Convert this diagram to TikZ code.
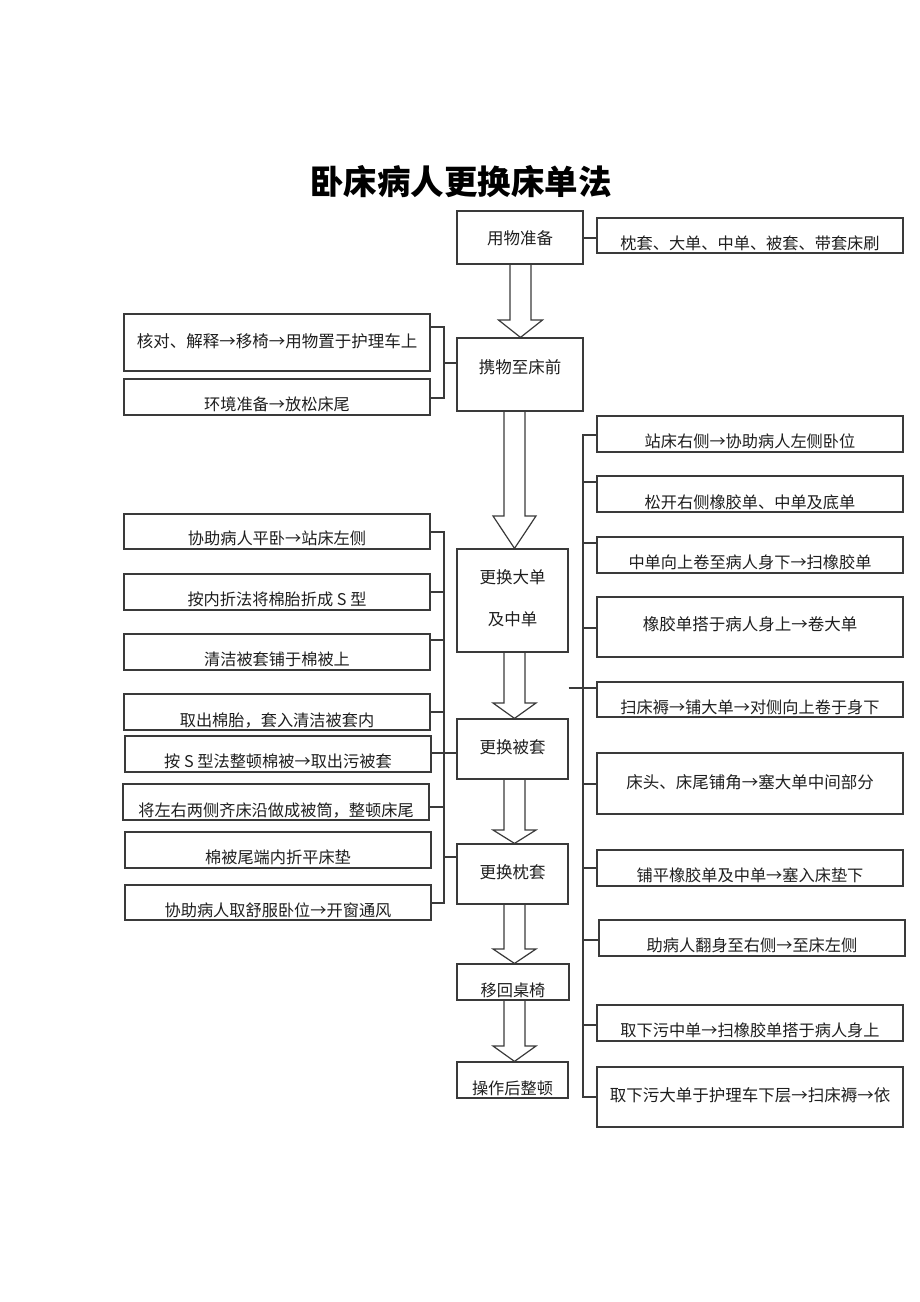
\documentclass[tikz,border=0pt]{standalone}
\usepackage{fontspec}
\setmainfont{Noto Sans CJK SC}
\usetikzlibrary{fit,calc}
\definecolor{lc}{HTML}{3A3A3A}
\definecolor{tc}{HTML}{1E1E1E}
\newcommand\bx[8]{\node[box,fit={(#2,#3) (#4,#5)}] (#1) {};\node[#6] (#1t) at ({(#2+#4)/2},#7) {#8};}
\newcommand\barrow[6]{\draw[arr] ({#3-#4},0 |- #1.south) -- ({#3-#4},#6) -- ({#3-#5},#6) -- (#3,0 |- #2.north) -- ({#3+#5},#6) -- ({#3+#4},#6) -- ({#3+#4},0 |- #1.south);}
\begin{document}
\begin{tikzpicture}[x=1pt,y=-1pt,
  box/.style={draw=lc,line width=1.2pt,inner sep=0pt},
  sm/.style={font=\fontsize{16.2}{16.2}\selectfont,text=tc,inner sep=0pt,text height=0.88em,text depth=0.12em,yshift=-3pt},
  bg/.style={font=\fontsize{16.5}{16.5}\selectfont,text=tc,inner sep=0pt,text height=0.88em,text depth=0.12em,yshift=-3pt},
  ttl/.style={font=\fontsize{33.5}{33.5}\selectfont\bfseries,text=black,inner sep=0pt},
  ln/.style={draw=lc,line width=1.2pt},
  arr/.style={draw=lc,line width=1.2pt,line join=miter}]
\useasboundingbox (0,0) rectangle (920,1302);
\node[ttl] (title) at (461,182) {卧床病人更换床单法};
% central column
\bx{c1}{457}{211}{583}{264}{bg}{238}{用物准备}
\bx{c2}{457}{338}{583}{411}{bg}{367}{携物至床前}
\node[box,fit={(457,549) (568,652)}] (c3) {};
\node[bg] (c3a) at (512.5,577) {更换大单};
\node[bg] (c3b) at (512.5,619) {及中单};
\bx{c4}{457}{719}{568}{779}{bg}{747}{更换被套}
\bx{c5}{457}{844}{568}{904}{bg}{872}{更换枕套}
\bx{c6}{457}{964}{569}{1000}{sm}{990}{移回桌椅}
\bx{c7}{457}{1062}{568}{1098}{sm}{1088}{操作后整顿}
% block arrows
\barrow{c1}{c2}{520.5}{10.5}{22}{320}
\barrow{c2}{c3}{514.5}{10.5}{21.5}{516}
\barrow{c3}{c4}{514.5}{10.5}{21.5}{703}
\barrow{c4}{c5}{514.5}{10.5}{21.5}{830}
\barrow{c5}{c6}{514.5}{10.5}{21.5}{949}
\barrow{c6}{c7}{514.5}{10.5}{21.5}{1046}
% top right
\bx{r0}{597}{218}{903}{253}{sm}{243}{枕套、大单、中单、被套、带套床刷}
\draw[ln] (c1.east |- 0,238) -- (r0.west |- 0,238);
% top left
\bx{l1}{124}{314}{430}{371}{bg}{341}{核对、解释→移椅→用物置于护理车上}
\bx{l2}{124}{379}{430}{415}{sm}{404}{环境准备→放松床尾}
\coordinate (bt) at (444,327);
\coordinate (bb) at (444,398);
\draw[ln] (l1.east |- bt) -- (bt) -- (bb) -- (l2.east |- bb);
\draw[ln] (bt |- 0,363) -- (c2.west |- 0,363);
% right group
\bx{r1}{597}{416}{903}{452}{sm}{441}{站床右侧→协助病人左侧卧位}
\bx{r2}{597}{476}{903}{512}{sm}{502}{松开右侧橡胶单、中单及底单}
\bx{r3}{597}{537}{903}{573}{sm}{562}{中单向上卷至病人身下→扫橡胶单}
\bx{r4}{597}{597}{903}{657}{bg}{624}{橡胶单搭于病人身上→卷大单}
\bx{r5}{597}{682}{903}{717}{sm}{707}{扫床褥→铺大单→对侧向上卷于身下}
\bx{r6}{597}{753}{903}{814}{bg}{782}{床头、床尾铺角→塞大单中间部分}
\bx{r7}{597}{850}{903}{886}{sm}{875}{铺平橡胶单及中单→塞入床垫下}
\bx{r8}{599}{920}{905}{956}{sm}{945}{助病人翻身至右侧→至床左侧}
\bx{r9}{597}{1005}{903}{1041}{sm}{1030}{取下污中单→扫橡胶单搭于病人身上}
\bx{r10}{597}{1067}{903}{1127}{bg}{1095}{取下污大单于护理车下层→扫床褥→依}
\coordinate (rvt) at (583,435);
\coordinate (rvb) at (583,1097);
\draw[ln] (r1.west |- rvt) -- (rvt) -- (rvb) -- (r10.west |- rvb);
\draw[ln] (rvt |- 0,482) -- (r2.west |- 0,482);
\draw[ln] (rvt |- 0,543) -- (r3.west |- 0,543);
\draw[ln] (rvt |- 0,628) -- (r4.west |- 0,628);
\draw[ln] (c3.east |- 0,688) -- (r5.west |- 0,688);
\draw[ln] (rvt |- 0,784) -- (r6.west |- 0,784);
\draw[ln] (rvt |- 0,868) -- (r7.west |- 0,868);
\draw[ln] (rvt |- 0,940) -- (r8.west |- 0,940);
\draw[ln] (rvt |- 0,1025) -- (r9.west |- 0,1025);
% left group
\bx{k1}{124}{514}{430}{549}{sm}{538}{协助病人平卧→站床左侧}
\bx{k2}{124}{574}{430}{610}{sm}{599}{按内折法将棉胎折成 S 型}
\bx{k3}{124}{634}{430}{670}{sm}{659}{清洁被套铺于棉被上}
\bx{k4}{124}{694}{430}{730}{sm}{720}{取出棉胎，套入清洁被套内}
\bx{k5}{125}{736}{431}{772}{sm}{761}{按 S 型法整顿棉被→取出污被套}
\bx{k6}{123}{784}{429}{820}{sm}{810}{将左右两侧齐床沿做成被筒，整顿床尾}
\bx{k7}{125}{832}{431}{868}{sm}{857}{棉被尾端内折平床垫}
\bx{k8}{125}{885}{431}{920}{sm}{910}{协助病人取舒服卧位→开窗通风}
\coordinate (lvt) at (444,532);
\coordinate (lvb) at (444,903);
\draw[ln] (k1.east |- lvt) -- (lvt) -- (lvb) -- (k8.east |- lvb);
\draw[ln] (k2.east |- 0,592) -- (lvt |- 0,592);
\draw[ln] (k3.east |- 0,640) -- (lvt |- 0,640);
\draw[ln] (k4.east |- 0,712) -- (lvt |- 0,712);
\draw[ln] (k5.east |- 0,753) -- (c4.west |- 0,753);
\draw[ln] (k6.east |- 0,807) -- (lvt |- 0,807);
\draw[ln] (lvt |- 0,857) -- (c5.west |- 0,857);
\end{tikzpicture}
\end{document}
